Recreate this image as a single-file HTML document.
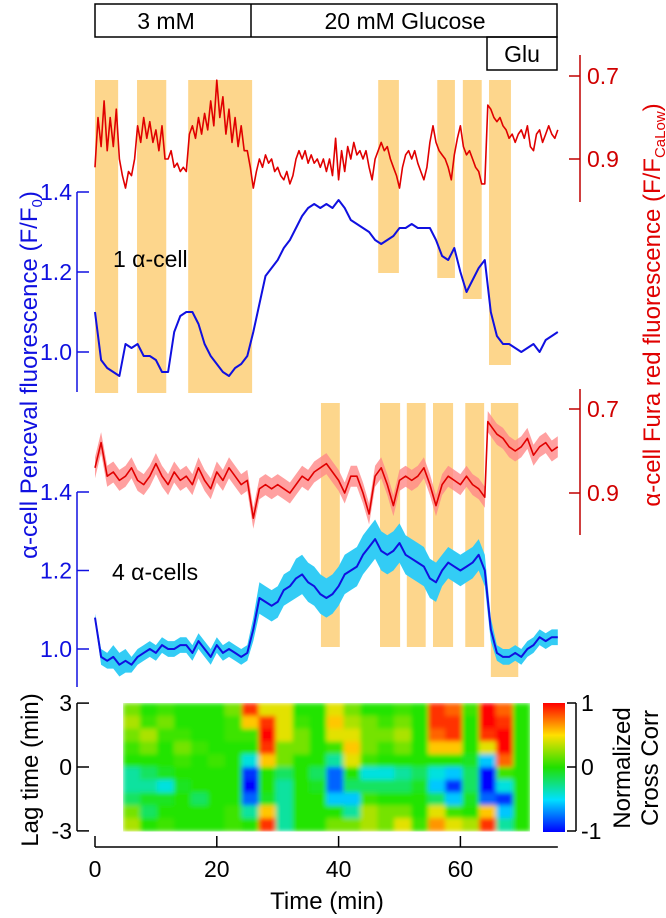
<!DOCTYPE html>
<html><head><meta charset="utf-8">
<style>
html,body{margin:0;padding:0;background:#fff;}
svg{display:block;font-family:"Liberation Sans",Arial,sans-serif;}
</style></head>
<body>
<svg id="fig" width="666" height="918" viewBox="0 0 666 918" xmlns="http://www.w3.org/2000/svg">
<defs>
<clipPath id="hmclip"><rect x="123" y="703" width="407" height="130"/></clipPath>
<filter id="hmblur" x="0" y="0" width="1" height="1"><feGaussianBlur stdDeviation="2.5" edgeMode="duplicate"/></filter>
<linearGradient id="cbgrad" x1="0" y1="1" x2="0" y2="0">
<stop offset="0" stop-color="#0000ff"/><stop offset="0.25" stop-color="#00e0ff"/><stop offset="0.5" stop-color="#20e000"/><stop offset="0.75" stop-color="#ffe000"/><stop offset="1" stop-color="#ff0000"/>
</linearGradient>
</defs>
<g fill="none" stroke="#000" stroke-width="1.5">
<rect x="95" y="4" width="462" height="33"/>
<line x1="251" y1="4" x2="251" y2="37"/>
<rect x="487" y="37" width="70" height="33"/>
</g>
<text x="166" y="29" font-size="23" text-anchor="middle">3 mM</text>
<text x="405" y="29" font-size="23" text-anchor="middle">20 mM Glucose</text>
<text x="522" y="62" font-size="23" text-anchor="middle">Glu</text>

<g id="bands"></g>
<g id="traces"></g>
<g id="heat" clip-path="url(#hmclip)"><g id="heatcells" filter="url(#hmblur)"></g></g>

<g id="axes"></g>

<text transform="translate(37,375) rotate(-90)" font-size="24" fill="#1010e0" text-anchor="middle">α-cell Perceval fluorescence (F/F<tspan font-size="15" dy="5">0</tspan><tspan dy="-5">)</tspan></text>
<text transform="translate(660,305) rotate(-90)" font-size="24" fill="#e00000" text-anchor="middle">α-cell Fura red fluorescence (F/F<tspan font-size="15" dy="5">CaLow</tspan><tspan dy="-5">)</tspan></text>
<text x="113" y="267" font-size="23">1 α-cell</text>
<text x="112" y="580" font-size="23">4 α-cells</text>
<text transform="translate(38,770) rotate(-90)" font-size="24" text-anchor="middle">Lag time (min)</text>
<text x="327" y="909" font-size="24" text-anchor="middle">Time (min)</text>
<rect x="543" y="703" width="22" height="129" fill="url(#cbgrad)"/>
<text transform="translate(630,768) rotate(-90)" font-size="24" text-anchor="middle">Normalized</text>
<text transform="translate(658,768) rotate(-90)" font-size="24" text-anchor="middle">Cross Corr</text>
</svg>
<script>
// ---- data ----
const bandsTop = [[0,3.8],[6.9,11.7],[15.3,25.8],[46.5,49.9],[56.2,59.1],[60.4,63.5],[64.7,68.3]];
const bandsTopBottom = [393,393,393,273,278,299,365];
const bandsLow = [[37.1,40.2],[46.8,50.1],[51.2,54.3],[55.5,58.8],[60.8,63.9],[65.0,69.5]];
const bandsLowBottom = [647,647,647,647,647,677];

const blueTop = [1.10,0.98,0.96,0.95,0.94,1.02,1.01,1.02,0.99,0.99,0.98,0.95,0.95,1.05,1.09,1.10,1.10,1.07,1.02,0.99,0.97,0.95,0.94,0.96,0.97,0.99,1.05,1.12,1.19,1.21,1.23,1.26,1.28,1.31,1.34,1.36,1.37,1.36,1.37,1.36,1.38,1.36,1.33,1.32,1.31,1.30,1.28,1.27,1.28,1.29,1.31,1.31,1.32,1.31,1.31,1.31,1.28,1.24,1.23,1.26,1.20,1.15,1.18,1.21,1.23,1.10,1.04,1.02,1.02,1.01,1.00,1.01,1.02,1.00,1.03,1.04,1.05];
const redTop = [0.92,0.80,0.87,0.76,0.88,0.80,0.87,0.78,0.90,0.94,0.97,0.93,0.94,0.90,0.82,0.86,0.80,0.85,0.81,0.86,0.83,0.88,0.82,0.90,0.90,0.88,0.92,0.91,0.93,0.92,0.93,0.84,0.82,0.85,0.80,0.84,0.79,0.83,0.76,0.82,0.71,0.80,0.75,0.84,0.78,0.86,0.80,0.87,0.82,0.88,0.88,0.92,0.97,0.93,0.90,0.92,0.89,0.91,0.90,0.93,0.92,0.94,0.95,0.93,0.96,0.94,0.90,0.88,0.90,0.88,0.91,0.89,0.91,0.90,0.92,0.90,0.93,0.90,0.94,0.85,0.95,0.88,0.93,0.87,0.90,0.86,0.89,0.88,0.90,0.88,0.92,0.95,0.90,0.88,0.86,0.88,0.87,0.90,0.92,0.94,0.97,0.92,0.89,0.88,0.90,0.88,0.91,0.93,0.95,0.92,0.86,0.82,0.86,0.88,0.89,0.90,0.92,0.95,0.89,0.85,0.82,0.87,0.89,0.88,0.90,0.92,0.93,0.96,0.96,0.77,0.78,0.80,0.81,0.80,0.82,0.83,0.85,0.84,0.86,0.84,0.83,0.85,0.82,0.87,0.88,0.84,0.83,0.86,0.84,0.82,0.84,0.85,0.83];
const blueLow = [1.08,0.98,0.97,0.98,0.96,0.97,0.96,0.98,0.99,1.00,0.99,1.01,1.00,1.00,1.01,1.01,0.99,1.02,1.00,0.98,1.01,0.99,1.00,0.99,0.98,0.99,1.05,1.13,1.12,1.11,1.12,1.15,1.16,1.18,1.19,1.17,1.16,1.14,1.13,1.14,1.16,1.19,1.20,1.21,1.24,1.26,1.28,1.25,1.24,1.25,1.27,1.24,1.23,1.22,1.21,1.18,1.17,1.20,1.22,1.21,1.20,1.21,1.22,1.24,1.20,1.05,0.99,0.98,0.98,0.99,0.98,1.00,1.01,1.03,1.02,1.03,1.03];
const blueLowSd = [0.01,0.02,0.02,0.03,0.03,0.03,0.02,0.02,0.02,0.02,0.02,0.02,0.02,0.02,0.02,0.02,0.02,0.02,0.02,0.02,0.02,0.02,0.02,0.02,0.02,0.02,0.03,0.04,0.04,0.04,0.04,0.04,0.04,0.05,0.05,0.05,0.05,0.05,0.05,0.05,0.05,0.05,0.05,0.05,0.05,0.05,0.05,0.05,0.05,0.05,0.05,0.05,0.05,0.05,0.05,0.05,0.05,0.04,0.04,0.04,0.04,0.04,0.04,0.04,0.04,0.03,0.02,0.02,0.02,0.02,0.02,0.02,0.02,0.02,0.02,0.02,0.02];
const redLowTime = [0,1,2,3,4,5,6,7,8,9,10,11,12,13,14,15,16,17,18,19,20,21,22,23,24,25,26,27,28,29,30,31,32,33,34,35,36,37,38,39,40,41,42,43,44,45,46,47,48,49,50,51,52,53,54,55,56,57,58,59,60,61,62,63,64,64.5,65,66,67,68,69,70,71,72,73,74,75,76];
const redLow = [0.84,0.78,0.86,0.85,0.87,0.86,0.84,0.87,0.88,0.86,0.83,0.86,0.88,0.85,0.87,0.86,0.88,0.84,0.87,0.89,0.85,0.87,0.84,0.86,0.88,0.87,0.96,0.89,0.88,0.89,0.88,0.89,0.90,0.88,0.86,0.87,0.85,0.84,0.83,0.85,0.87,0.90,0.86,0.86,0.90,0.95,0.86,0.84,0.88,0.93,0.87,0.86,0.87,0.86,0.84,0.88,0.93,0.88,0.86,0.87,0.88,0.86,0.88,0.89,0.91,0.73,0.74,0.76,0.77,0.79,0.80,0.79,0.77,0.81,0.79,0.78,0.80,0.79];

const hmRows = [
[0.3,0.1,0.2,0.1,0,0.1,0.3,0.9,0.5,0.5,0.1,0,0.5,0.3,0.1,0.1,0.2,0.1,0.9,0.8,0.2,1,0.8,0.1],
[0.4,0.2,0.3,0,0,0.1,0.2,0.6,0.9,0.5,0.2,0,0.6,0.4,0.3,0.2,0.3,0.1,0.9,0.9,0.1,1,0.9,0.1],
[0.3,0.4,0.2,0.2,0,0,0.2,0.2,1,0.5,0.3,0,0.5,0.5,0.3,0.3,0.4,0.1,0.8,0.9,0.1,0.9,1,0],
[0.2,0.3,0.1,0.3,0.2,0.1,0.1,0,0.9,0.3,0.3,0.1,0.2,0.6,0.3,0.2,0.3,0,0.6,0.6,0,0.5,1,0],
[0.1,0.1,0.1,0.2,0.1,0.2,0.1,-0.5,0.6,0.3,0.1,-0.1,-0.4,0.5,0.2,0,0.1,0,0,0,-0.2,-0.6,0.8,0],
[-0.4,-0.3,-0.2,-0.1,-0.1,0,0,-0.9,0.1,-0.3,0,-0.3,-0.8,0.1,-0.5,-0.5,-0.4,-0.3,-0.5,-0.6,-0.3,-1,0.2,0],
[-0.4,-0.4,-0.5,-0.2,0,0,0,-1,-0.1,-0.4,0,-0.2,-0.8,-0.3,-0.3,-0.3,-0.3,-0.2,-0.6,-0.9,-0.3,-1,-0.5,0],
[-0.3,-0.2,-0.2,-0.1,-0.3,0,0,-0.8,-0.2,-0.4,0,-0.1,-0.6,-0.6,0.2,0.1,0,0,-0.3,-0.6,-0.2,-0.8,-0.9,0],
[0.3,-0.3,0.1,0,0,0,0.2,-0.4,0.6,-0.4,0.1,0,0.1,-0.4,0.4,0.3,0.3,0.1,0.5,0.2,0.1,0.6,-0.6,0],
[0.4,0,0.2,0,0.1,0,0.2,0,0.9,-0.4,0.1,0,0.3,0.3,0.4,0.3,0.5,0.2,0.7,0.5,0.4,0.9,-0.4,0]];
const hmTimeRange = [4.6, 71.4];
const hmLagRange = [3, -3];

const timeTicks = [0,20,40,60];
const blueTicks = [1.0,1.2,1.4];
const redTicks = [0.7,0.9];
const lagTicks = [3,0,-3];
const cbTicks = [1,0,-1];

// ---- scales ----
const X = t => 95 + t*6.09;
const yBT = v => 352 - (v-1.0)*400;
const yRT = v => 76 + (v-0.7)*415;
const yBL = v => 649 - (v-1.0)*392.5;
const yRL = v => 409 + (v-0.7)*420;
const yLag = l => 767 - l*21.3;
const yCb = c => 767 - c*64;
const NS = 'http://www.w3.org/2000/svg';
function mk(tag, attrs, parent){const e=document.createElementNS(NS,tag);for(const k in attrs)e.setAttribute(k,attrs[k]);parent.appendChild(e);return e;}

const bg = document.getElementById('bands');
bandsTop.forEach((b,i)=>{
  const r = mk('rect',{x:X(b[0]),y:80,width:X(b[1])-X(b[0]),height:bandsTopBottom[i]-80,fill:'#fdd68c'},bg);
  
  
});
bandsLow.forEach((b,i)=>{
  const r = mk('rect',{x:X(b[0]),y:403,width:X(b[1])-X(b[0]),height:bandsLowBottom[i]-403,fill:'#fdd68c'},bg);
  
  
});

const tg = document.getElementById('traces');
function line(times, vals, ys){return vals.map((v,i)=>(i?'L':'M')+X(times[i]).toFixed(1)+','+ys(v).toFixed(1)).join('');}
const idx = a => a.map((_,i)=>i);
const half = a => a.map((_,i)=>i*0.5);
let up = redLow.map((v,i)=>X(redLowTime[i]).toFixed(1)+','+yRL(v-0.025).toFixed(1));
let dn = redLow.map((v,i)=>X(redLowTime[i]).toFixed(1)+','+yRL(v+0.025).toFixed(1)).reverse();
let p = mk('polygon',{points:up.concat(dn).join(' '),fill:'#f88',opacity:0.8},tg);


const tb = idx(blueLow);
up = blueLow.map((v,i)=>X(tb[i]).toFixed(1)+','+yBL(v+blueLowSd[i]).toFixed(1));
dn = blueLow.map((v,i)=>X(tb[i]).toFixed(1)+','+yBL(v-blueLowSd[i]).toFixed(1)).reverse();
p = mk('polygon',{points:up.concat(dn).join(' '),fill:'#33ccf5'},tg);



let l = mk('path',{d:line(half(redTop),redTop,yRT),fill:'none',stroke:'#e00000','stroke-width':1.6,'stroke-linejoin':'round'},tg);


l = mk('path',{d:line(idx(blueTop),blueTop,yBT),fill:'none',stroke:'#1010e0','stroke-width':2,'stroke-linejoin':'round'},tg);


l = mk('path',{d:line(redLowTime,redLow,yRL),fill:'none',stroke:'#e00000','stroke-width':1.6,'stroke-linejoin':'round'},tg);


l = mk('path',{d:line(tb,blueLow,yBL),fill:'none',stroke:'#1010e0','stroke-width':2,'stroke-linejoin':'round'},tg);



function cmap(v){
  const stops=[[-1,[0,0,255]],[-0.55,[0,224,255]],[-0.15,[32,228,0]],[0.15,[32,228,0]],[0.55,[255,224,0]],[1,[255,0,0]]];
  v=Math.max(-1,Math.min(1,v));
  for(let i=0;i<stops.length-1;i++){const a=stops[i],b=stops[i+1];
    if(v<=b[0]){const f=(v-a[0])/(b[0]-a[0]);return 'rgb('+a[1].map((c,k)=>Math.round(c+(b[1][k]-c)*f)).join(',')+')';}}
  return 'rgb(255,0,0)';
}
const hc = document.getElementById('heatcells');
const nC = hmRows[0].length, nR = hmRows.length;
const cw = (X(hmTimeRange[1])-X(hmTimeRange[0]))/nC, rh = (yLag(hmLagRange[1])-yLag(hmLagRange[0]))/nR;
hmRows.forEach((row,r)=>row.forEach((v,c)=>{
  const e = mk('rect',{x:(X(hmTimeRange[0])+c*cw).toFixed(2),y:(yLag(hmLagRange[0])+r*rh).toFixed(2),width:(cw+0.6).toFixed(2),height:(rh+0.6).toFixed(2),fill:cmap(v)},hc);
  
  
}));

const ax = document.getElementById('axes');
function seg(x1,y1,x2,y2,col,name){const e=mk('line',{x1,y1,x2,y2,stroke:col,'stroke-width':1.5},ax);}
function txt(x,y,s,col,anchor,name){const e=mk('text',{x,y,'font-size':23,fill:col,'text-anchor':anchor},ax);e.textContent=s;}
seg(77,192,77,392,'#1010e0','top-left-axis');
blueTicks.forEach(v=>{seg(77,yBT(v),89,yBT(v),'#1010e0','top-left-tick');txt(72,yBT(v)+8,v.toFixed(1),'#1010e0','end','top-left-tick-label');});
seg(580,55,580,202,'#c00000','top-right-axis');
redTicks.forEach(v=>{seg(569,yRT(v),580,yRT(v),'#c00000','top-right-tick');txt(587,yRT(v)+8,v.toFixed(1),'#d00000','start','top-right-tick-label');});
seg(77,492,77,687,'#1010e0','lower-left-axis');
blueTicks.forEach(v=>{seg(77,yBL(v),89,yBL(v),'#1010e0','lower-left-tick');txt(72,yBL(v)+8,v.toFixed(1),'#1010e0','end','lower-left-tick-label');});
seg(580,389,580,535,'#c00000','lower-right-axis');
redTicks.forEach(v=>{seg(569,yRL(v),580,yRL(v),'#c00000','lower-right-tick');txt(587,yRL(v)+8,v.toFixed(1),'#d00000','start','lower-right-tick-label');});
seg(77,yLag(3),77,yLag(-3),'#000','lag-axis');
lagTicks.forEach(v=>{seg(77,yLag(v),89,yLag(v),'#000','lag-tick');txt(72,yLag(v)+8,String(v),'#000','end','lag-tick-label');});
seg(576,yCb(1),576,yCb(-1),'#000','colorbar-axis');
cbTicks.forEach(v=>{seg(567,yCb(v),576,yCb(v),'#000','colorbar-tick');txt(581,yCb(v)+8,String(v),'#000','start','colorbar-tick-label');});
seg(X(0),847,X(76),847,'#000','time-axis');
timeTicks.forEach(v=>{seg(X(v),836,X(v),847,'#000','time-tick');txt(X(v),877,String(v),'#000','middle','time-tick-label');});
</script>
</body></html>
